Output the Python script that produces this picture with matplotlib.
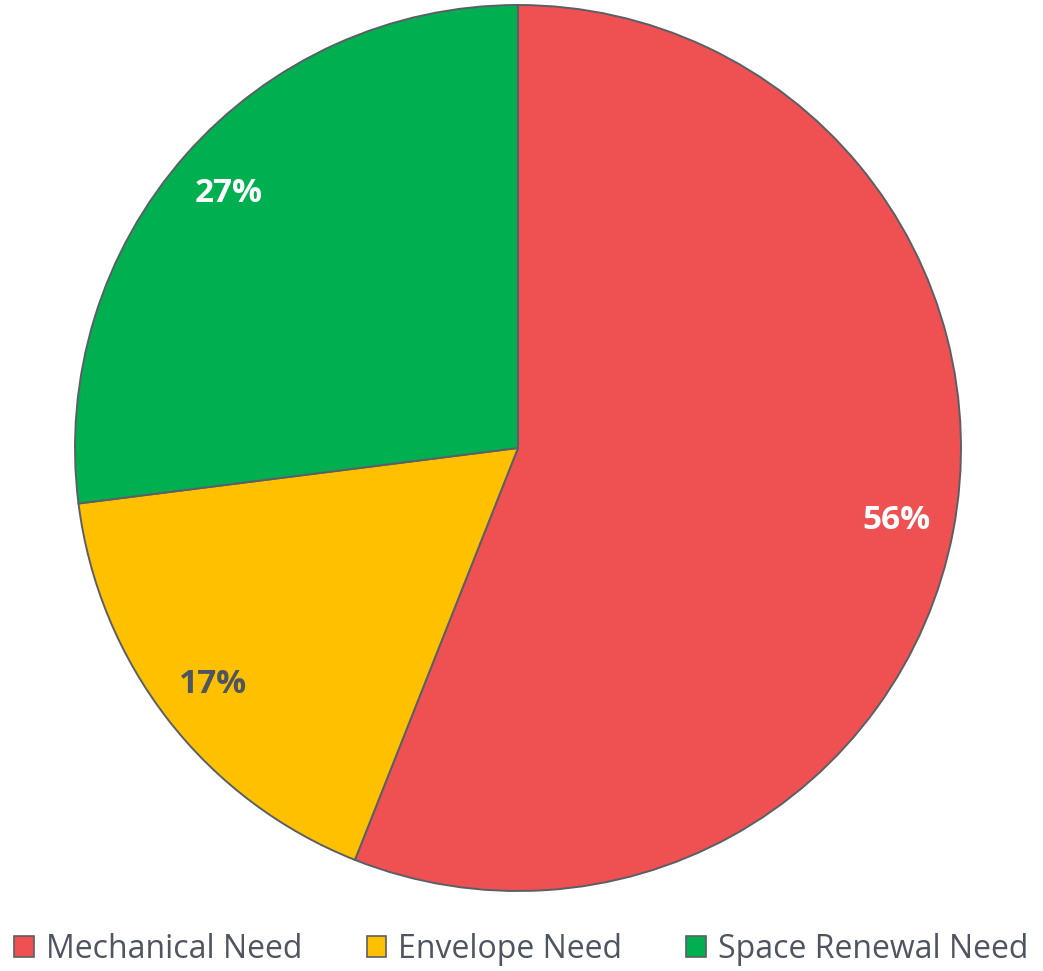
import matplotlib
matplotlib.use("Agg")
import matplotlib.pyplot as plt

categories = ["Mechanical Need", "Envelope Need", "Space Renewal Need"]
shares = [56, 17, 27]
colors = ["#EF5152", "#FFC000", "#00B050"]
label_colors = ["white", "#4E5560", "white"]

W, H = 1043, 971
fig = plt.figure(figsize=(W / 100, H / 100), dpi=100)
ax = fig.add_axes([0, 0, 1, 1])

wedges, texts, autotexts = ax.pie(
    shares,
    colors=colors,
    startangle=90,
    counterclock=False,
    center=(518, H - 448),
    radius=443,
    autopct=lambda p: f"{p:.0f}%",
    pctdistance=0.87,
    wedgeprops=dict(edgecolor="#5A5F66", linewidth=1.4),
    textprops=dict(fontsize=24, fontweight="bold", family="Open Sans"),
)
for t, c in zip(autotexts, label_colors):
    t.set_color(c)

ax.set_xlim(0, W)
ax.set_ylim(0, H)
ax.set_aspect("equal")
ax.axis("off")

leg = fig.legend(
    wedges,
    categories,
    loc="center",
    bbox_to_anchor=(0.5, 1 - 949 / H),
    ncol=3,
    frameon=False,
    prop=dict(family="Open Sans", size=23),
    handlelength=0.62,
    handleheight=0.62,
    handletextpad=0.38,
    columnspacing=2.0,
    borderpad=0.0,
    borderaxespad=0.0,
    labelcolor="#4E5560",
)
for h in leg.legend_handles:
    h.set_edgecolor("#5A5F66")
    h.set_linewidth(1.2)

fig.savefig("out.png", dpi=100)
